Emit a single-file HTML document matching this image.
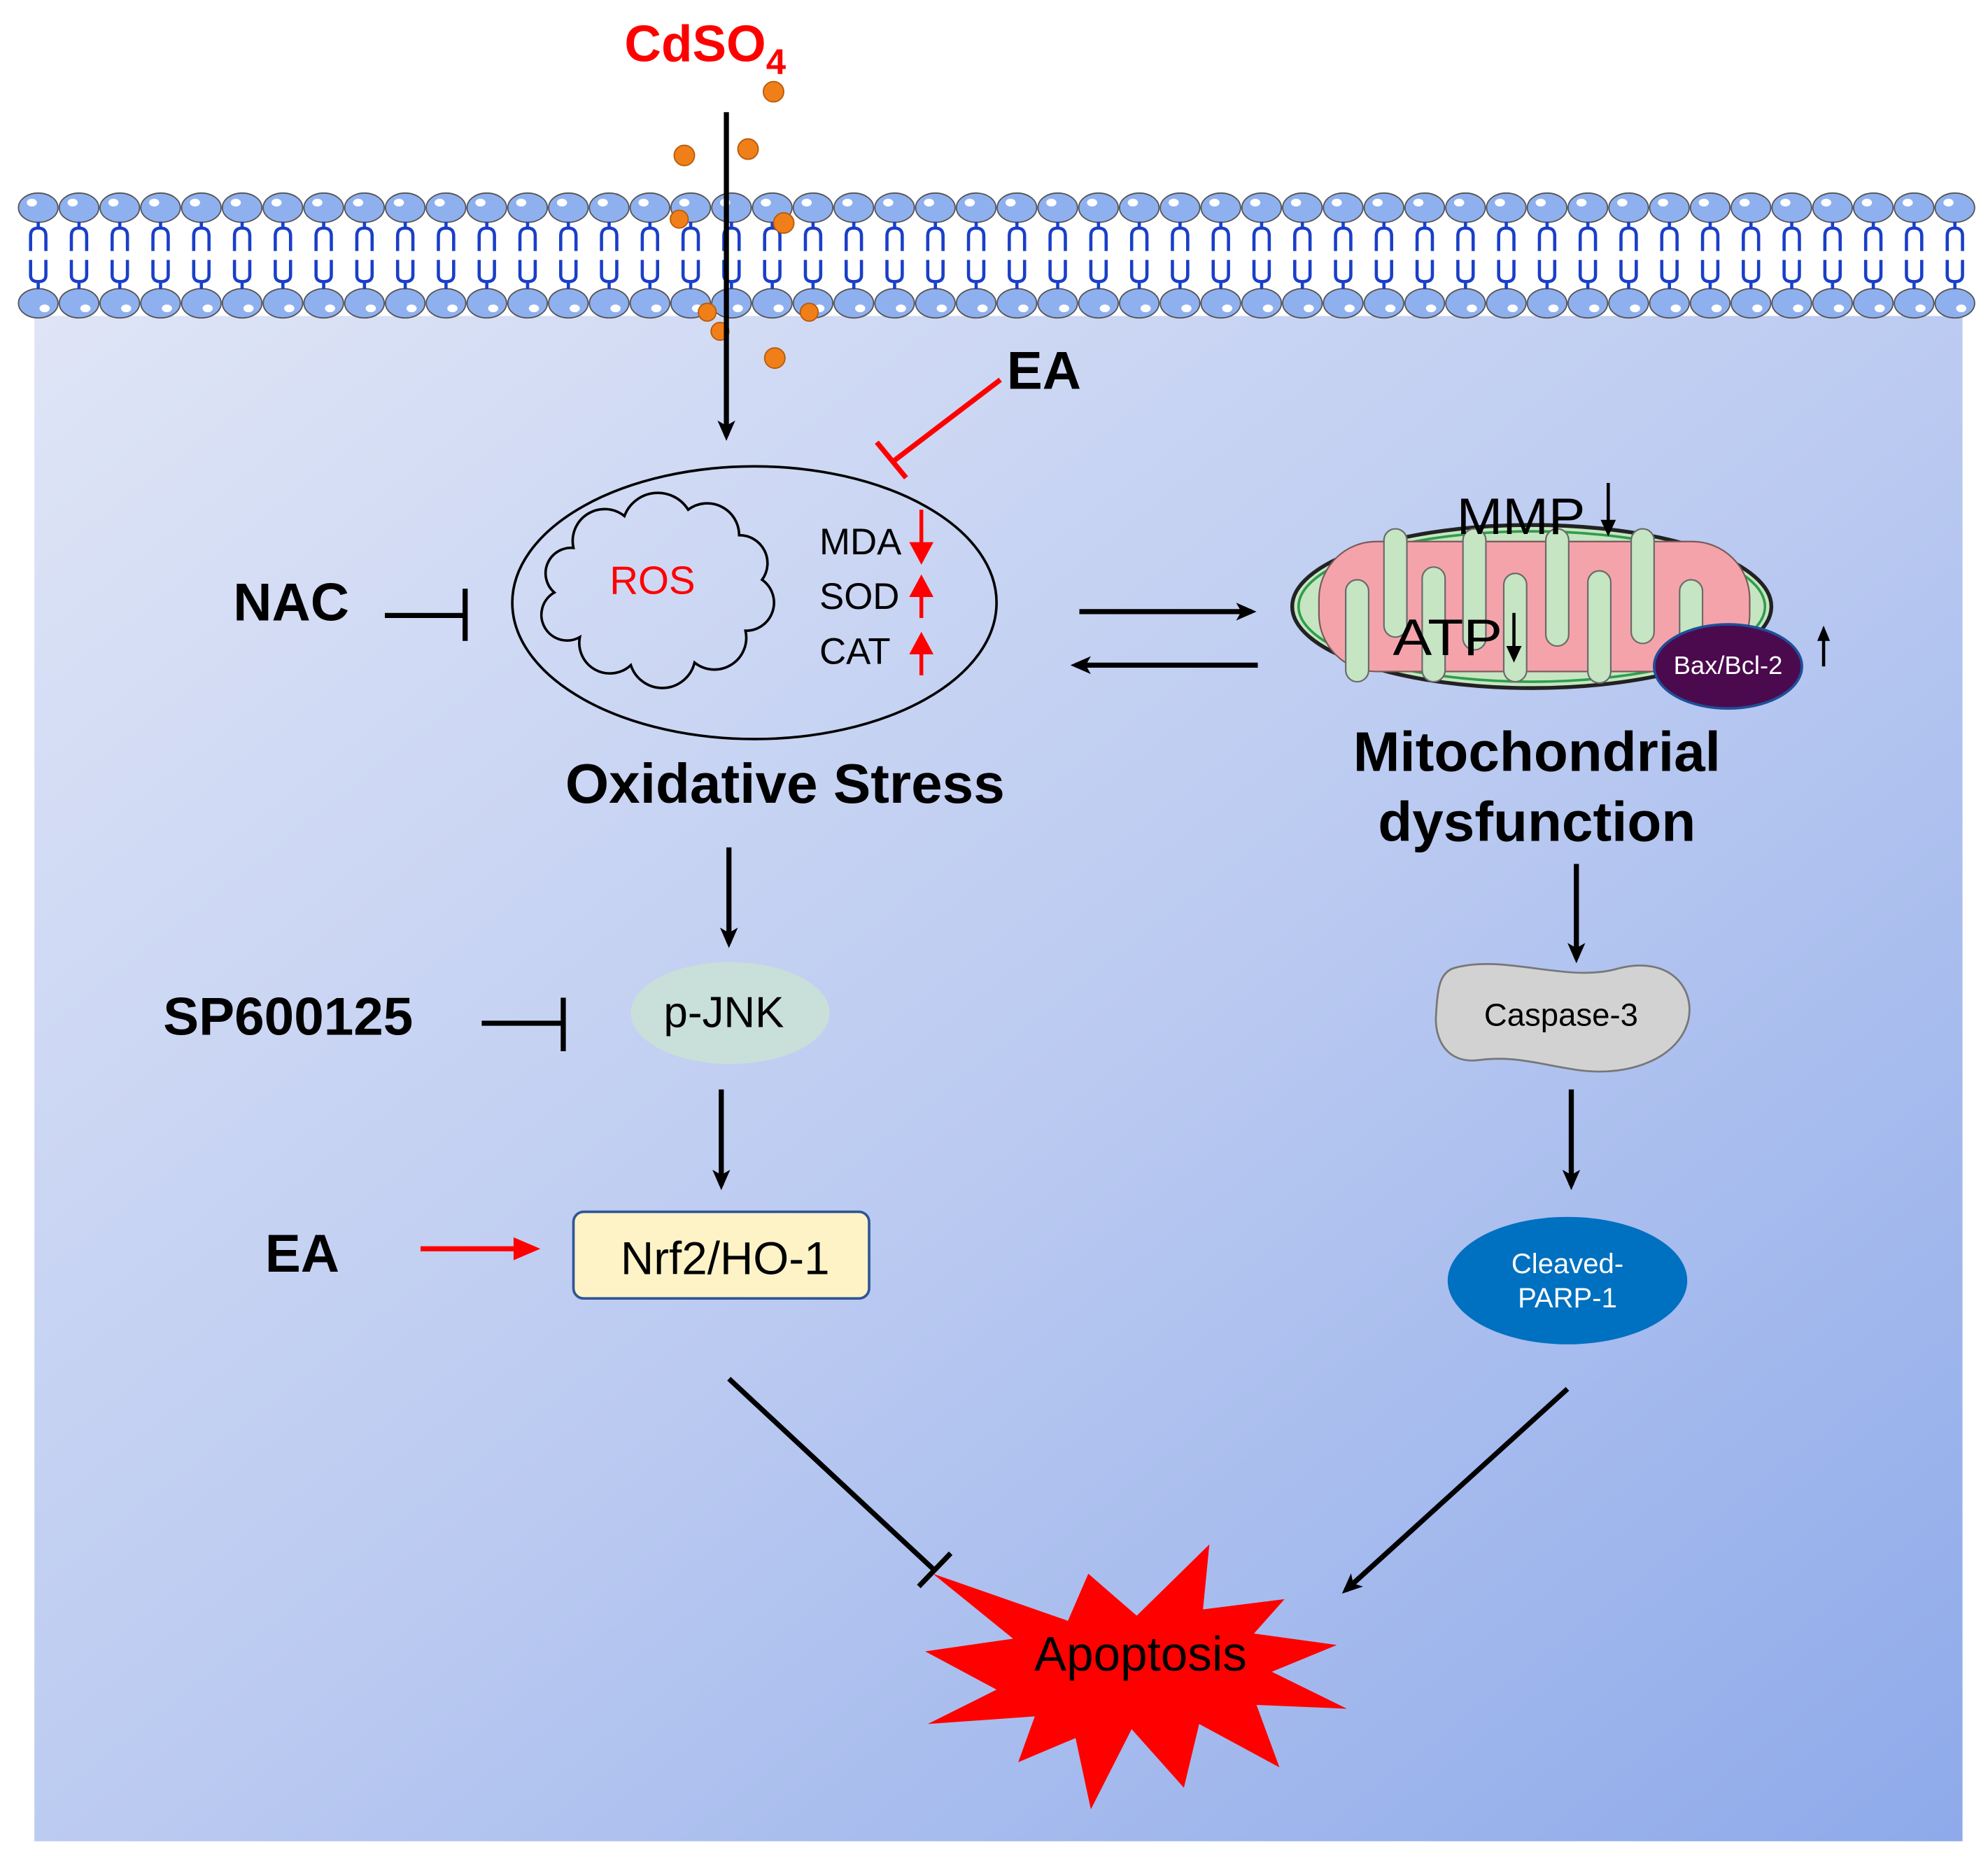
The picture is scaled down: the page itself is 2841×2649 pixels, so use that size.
<!DOCTYPE html>
<html><head><meta charset="utf-8"><style>html,body{margin:0;padding:0;background:#fff}svg{display:block}</style></head>
<body>
<svg xmlns="http://www.w3.org/2000/svg" width="2841" height="2649" viewBox="0 0 1560 1455" preserveAspectRatio="none" font-family="'Liberation Sans', sans-serif">
<defs>
<linearGradient id="bg" x1="0" y1="0" x2="1" y2="1">
<stop offset="0" stop-color="#dfe5f6"/><stop offset="0.5" stop-color="#bccbf1"/><stop offset="1" stop-color="#8eaaea"/>
</linearGradient>
<marker id="ah" markerWidth="16" markerHeight="16" refX="12" refY="8" orient="auto" markerUnits="userSpaceOnUse" viewBox="0 0 16 16">
<path d="M0,1 L16,8 L0,15 L4,8 Z" fill="#000"/></marker>
<g id="lip">
<ellipse cx="0" cy="163" rx="15.5" ry="11.5" fill="#8fb0ef" stroke="#555" stroke-width="1"/>
<ellipse cx="-5" cy="159" rx="4" ry="3" fill="#fff"/>
<ellipse cx="0" cy="238" rx="15.5" ry="11.5" fill="#8fb0ef" stroke="#555" stroke-width="1"/>
<ellipse cx="5" cy="242" rx="4" ry="3" fill="#fff"/>
<path d="M0,174 V180 M-6,197 V185 Q-6,179 0,179 Q6,179 6,185 V197 M-6,204 V216 Q-6,221 0,221 Q6,221 6,216 V204 M0,221 V227" fill="none" stroke="#1a3fc7" stroke-width="2.5"/>
</g>
</defs>
<rect x="0" y="0" width="1560" height="1455" fill="#fff"/>
<rect x="27" y="248" width="1513" height="1197" fill="url(#bg)"/>
<g>
<use href="#lip" x="30"/><use href="#lip" x="62"/><use href="#lip" x="94"/><use href="#lip" x="126"/><use href="#lip" x="158"/><use href="#lip" x="190"/><use href="#lip" x="222"/><use href="#lip" x="254"/><use href="#lip" x="286"/><use href="#lip" x="318"/><use href="#lip" x="350"/><use href="#lip" x="382"/><use href="#lip" x="414"/><use href="#lip" x="446"/><use href="#lip" x="478"/><use href="#lip" x="510"/><use href="#lip" x="542"/><use href="#lip" x="574"/><use href="#lip" x="606"/><use href="#lip" x="638"/><use href="#lip" x="670"/><use href="#lip" x="702"/><use href="#lip" x="734"/><use href="#lip" x="766"/><use href="#lip" x="798"/><use href="#lip" x="830"/><use href="#lip" x="862"/><use href="#lip" x="894"/><use href="#lip" x="926"/><use href="#lip" x="958"/><use href="#lip" x="990"/><use href="#lip" x="1022"/><use href="#lip" x="1054"/><use href="#lip" x="1086"/><use href="#lip" x="1118"/><use href="#lip" x="1150"/><use href="#lip" x="1182"/><use href="#lip" x="1214"/><use href="#lip" x="1246"/><use href="#lip" x="1278"/><use href="#lip" x="1310"/><use href="#lip" x="1342"/><use href="#lip" x="1374"/><use href="#lip" x="1406"/><use href="#lip" x="1438"/><use href="#lip" x="1470"/><use href="#lip" x="1502"/><use href="#lip" x="1534"/>
</g>
<text x="490" y="48" font-size="40" font-weight="bold" fill="#f00">CdSO<tspan font-size="28" dy="10">4</tspan></text>
<g fill="#f07f1a" stroke="#b85a0a" stroke-width="1">
<circle cx="607" cy="72" r="8"/><circle cx="537" cy="122" r="8"/><circle cx="587" cy="117" r="8"/><circle cx="533" cy="172" r="7"/><circle cx="615" cy="175" r="8"/><circle cx="555" cy="245" r="7"/><circle cx="565" cy="260" r="7"/><circle cx="635" cy="245" r="7"/><circle cx="608" cy="281" r="8"/>
</g>
<line x1="570" y1="88" x2="570" y2="342" stroke="#000" stroke-width="4" marker-end="url(#ah)"/>
<text x="790" y="305" font-size="42" font-weight="bold">EA</text>
<line x1="785" y1="298" x2="701" y2="362" stroke="#f00" stroke-width="4"/>
<line x1="688" y1="347" x2="711" y2="375" stroke="#f00" stroke-width="4"/>
<ellipse cx="592" cy="473" rx="190" ry="107" fill="none" stroke="#000" stroke-width="2"/>
<path d="M450,430 A25,25 0 0 1 490,405 A28,28 0 0 1 540,400 A25,25 0 0 1 580,420 A22,22 0 0 1 598,455 A22,22 0 0 1 585,495 A25,25 0 0 1 545,520 A26,26 0 0 1 495,522 A24,24 0 0 1 455,500 A20,20 0 0 1 435,465 A20,20 0 0 1 450,430 Z" fill="none" stroke="#000" stroke-width="2"/>
<text x="512" y="466" font-size="31" fill="#f00" text-anchor="middle">ROS</text>
<g font-size="29"><text x="643" y="435">MDA</text><text x="643" y="478">SOD</text><text x="643" y="521">CAT</text></g>
<g stroke="#f00" stroke-width="3" fill="#f00">
<line x1="723" y1="400" x2="723" y2="428"/><path d="M716,427 L730,427 L723,440 Z"/>
<line x1="723" y1="485" x2="723" y2="466"/><path d="M716,467 L730,467 L723,454 Z"/>
<line x1="723" y1="530" x2="723" y2="511"/><path d="M716,512 L730,512 L723,499 Z"/>
</g>
<text x="616" y="630" font-size="44" font-weight="bold" text-anchor="middle">Oxidative Stress</text>
<text x="183" y="487" font-size="42" font-weight="bold">NAC</text>
<line x1="302" y1="483" x2="365" y2="483" stroke="#000" stroke-width="4"/>
<line x1="365" y1="462" x2="365" y2="503" stroke="#000" stroke-width="4"/>
<line x1="847" y1="480" x2="982" y2="480" stroke="#000" stroke-width="4" marker-end="url(#ah)"/>
<line x1="987" y1="522" x2="844" y2="522" stroke="#000" stroke-width="4" marker-end="url(#ah)"/>
<!-- Mitochondria -->
<ellipse cx="1202" cy="476" rx="188" ry="64" fill="#c6e5c3" stroke="#222" stroke-width="3"/>
<ellipse cx="1202" cy="476" rx="183" ry="59" fill="none" stroke="#2e9e4a" stroke-width="2"/>
<rect x="1035" y="425" width="338" height="102" rx="45" fill="#f5a3ab" stroke="#7a5a5a" stroke-width="1.2"/>
<g fill="#c6e5c3" stroke="#6a6a6a" stroke-width="1.2">
<rect x="1056" y="455" width="18" height="80" rx="9"/><rect x="1116" y="445" width="18" height="90" rx="9"/><rect x="1180" y="450" width="18" height="85" rx="9"/><rect x="1246" y="448" width="18" height="88" rx="9"/><rect x="1318" y="455" width="18" height="80" rx="9"/>
<rect x="1086" y="415" width="18" height="85" rx="9"/><rect x="1148" y="415" width="18" height="95" rx="9"/><rect x="1213" y="415" width="18" height="92" rx="9"/><rect x="1280" y="415" width="18" height="90" rx="9"/>
</g>
<text x="1143" y="419" font-size="40" textLength="101" lengthAdjust="spacingAndGlyphs">MMP</text>
<line x1="1262" y1="379" x2="1262" y2="412" stroke="#000" stroke-width="2.5"/><path d="M1256,408 L1268,408 L1262,421 Z"/>
<text x="1093" y="514" font-size="40" textLength="86" lengthAdjust="spacingAndGlyphs">ATP</text>
<line x1="1188" y1="481" x2="1188" y2="510" stroke="#000" stroke-width="2.5"/><path d="M1182,507 L1194,507 L1188,520 Z"/>
<ellipse cx="1356" cy="523" rx="58" ry="33" fill="#4b0a4e" stroke="#1f4e9a" stroke-width="2"/>
<text x="1356" y="529" font-size="20" fill="#fff" text-anchor="middle">Bax/Bcl-2</text>
<line x1="1431" y1="523" x2="1431" y2="500" stroke="#000" stroke-width="2.5"/><path d="M1426,503 L1436,503 L1431,491 Z"/>
<text x="1206" y="605" font-size="44" font-weight="bold" text-anchor="middle">Mitochondrial</text>
<text x="1206" y="660" font-size="44" font-weight="bold" text-anchor="middle">dysfunction</text>
<line x1="572" y1="665" x2="572" y2="740" stroke="#000" stroke-width="4" marker-end="url(#ah)"/>
<ellipse cx="573" cy="795" rx="78" ry="40" fill="#c9dfd9"/>
<text x="568" y="806" font-size="34" text-anchor="middle">p-JNK</text>
<text x="128" y="812" font-size="42" font-weight="bold">SP600125</text>
<line x1="378" y1="803" x2="442" y2="803" stroke="#000" stroke-width="4"/>
<line x1="442" y1="783" x2="442" y2="825" stroke="#000" stroke-width="4"/>
<line x1="566" y1="855" x2="566" y2="930" stroke="#000" stroke-width="4" marker-end="url(#ah)"/>
<rect x="450" y="951" width="232" height="68" rx="8" fill="#fdf3c6" stroke="#2f5597" stroke-width="2"/>
<text x="569" y="1000" font-size="36" text-anchor="middle">Nrf2/HO-1</text>
<text x="208" y="998" font-size="42" font-weight="bold">EA</text>
<line x1="330" y1="980" x2="408" y2="980" stroke="#f00" stroke-width="4"/>
<path d="M403,971 L424,980 L403,989 Z" fill="#f00"/>
<line x1="1237" y1="678" x2="1237" y2="752" stroke="#000" stroke-width="4" marker-end="url(#ah)"/>
<path d="M1140,760 C1180,748 1230,772 1270,760 C1310,750 1330,775 1325,800 C1318,830 1280,845 1240,840 C1210,836 1190,828 1160,832 C1135,835 1125,815 1127,795 C1128,775 1130,764 1140,760 Z" fill="#d2d2d2" stroke="#777" stroke-width="1.5"/>
<text x="1225" y="805" font-size="25" text-anchor="middle">Caspase-3</text>
<line x1="1233" y1="855" x2="1233" y2="930" stroke="#000" stroke-width="4" marker-end="url(#ah)"/>
<ellipse cx="1230" cy="1005" rx="94" ry="50" fill="#0070c0"/>
<text x="1230" y="999" font-size="22" fill="#fff" text-anchor="middle">Cleaved-</text>
<text x="1230" y="1026" font-size="22" fill="#fff" text-anchor="middle">PARP-1</text>
<line x1="572" y1="1082" x2="733" y2="1232" stroke="#000" stroke-width="4"/>
<line x1="721" y1="1245" x2="746" y2="1219" stroke="#000" stroke-width="4"/>
<line x1="1230" y1="1090" x2="1056" y2="1248" stroke="#000" stroke-width="4" marker-end="url(#ah)"/>
<path d="M732,1235 L838,1272 L854,1235 L892,1268 L949,1212 L944,1263 L1008,1255 L984,1282 L1049,1291 L998,1312 L1057,1341 L986,1338 L1004,1387 L941,1353 L929,1403 L888,1357 L856,1420 L844,1364 L799,1383 L812,1347 L728,1353 L782,1326 L726,1296 L795,1286 Z" fill="#f00"/>
<text x="895" y="1311" font-size="38" text-anchor="middle">Apoptosis</text>
</svg>
</body></html>
